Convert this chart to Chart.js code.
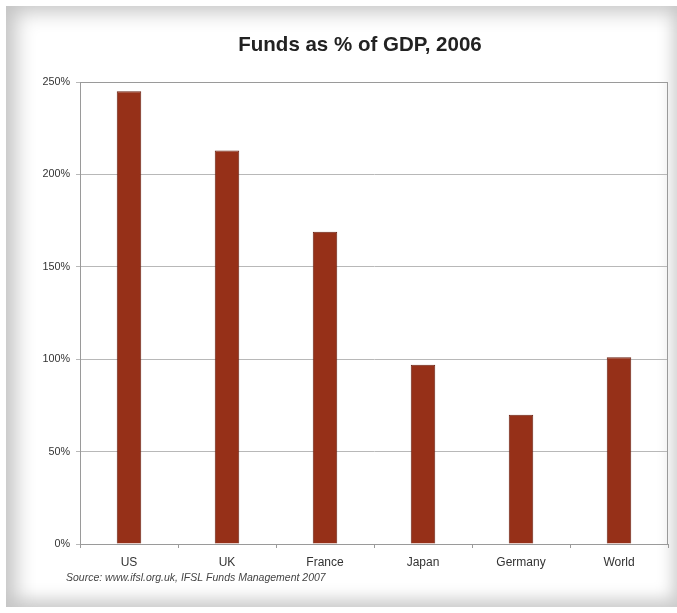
<!DOCTYPE html>
<html>
<head>
<meta charset="utf-8">
<script src="https://cdn.jsdelivr.net/npm/chart.js@4.4.0/dist/chart.umd.min.js"></script>
<style>
  html, body { margin: 0; padding: 0; background: #fff; }
  #marco {
    position: absolute; left: 0; top: 0; width: 677px; height: 613px; overflow: hidden;
    background: #fff;
  }
  #panel {
    position: absolute; left: 6px; top: 6px; right: 0; bottom: 6px;
    background: #fff;
    box-shadow: inset 16px 12px 20px -6px #c4c4c4, inset -10px -14px 16px -6px #cccccc;
  }
  #grafico { position: absolute; left: 0; top: 0; }
</style>
</head>
<body>
<div id="marco">
  <div id="panel"></div>
  <canvas id="grafico" width="677" height="613"></canvas>
</div>
<script>
// Datos del grafico
const paises = ["US", "UK", "France", "Japan", "Germany", "World"];
const fondosPib = [245, 213, 169, 97, 70, 101]; // % del PIB
const tituloTexto = "Funds as % of GDP, 2006";
const fuenteTexto = "Source: www.ifsl.org.uk, IFSL Funds Management 2007";

const colorBarra = "#963018";
const colorBordeBarra = "#6a2012";
const colorGrilla = "#b8b8b8";

// Plugin para el titulo, la fuente y el marco del area del grafico
const textosPlugin = {
    id: "textos",
    afterDraw(chart) {
        const ctx = chart.ctx;
        const area = chart.chartArea;
        ctx.save();
        // marco del area
        ctx.strokeStyle = "#9a9a9a";
        ctx.lineWidth = 1;
        ctx.strokeRect(area.left + 0.5, area.top + 0.5, area.right - area.left - 1, area.bottom - area.top);
        // titulo
        ctx.fillStyle = "#222";
        ctx.font = "bold 20.5px 'Liberation Sans', Arial, sans-serif";
        ctx.textAlign = "center";
        ctx.textBaseline = "middle";
        ctx.fillText(tituloTexto, 360, 45);
        // fuente
        ctx.fillStyle = "#444";
        ctx.font = "italic 10.5px 'Liberation Sans', Arial, sans-serif";
        ctx.textAlign = "left";
        ctx.fillText(fuenteTexto, 66, 578);
        ctx.restore();
    },
};

const ctx = document.getElementById("grafico");
new Chart(ctx, {
    type: "bar",
    data: {
        labels: paises,
        datasets: [
            {
                label: tituloTexto,
                data: fondosPib,
                backgroundColor: colorBarra,
                borderColor: colorBordeBarra,
                borderWidth: 1,
                barPercentage: 0.25,
                categoryPercentage: 1,
            },
        ],
    },
    options: {
        responsive: false,
        animation: false,
        layout: {
            padding: { left: 0, right: 9, top: 82, bottom: 0 },
        },
        scales: {
            x: {
                grid: {
                    offset: true,
                    drawOnChartArea: false,
                    tickLength: 4,
                    color: "#9a9a9a",
                },
                border: { color: "#9a9a9a" },
                ticks: {
                    color: "#333",
                    padding: 7,
                    font: { family: "'Liberation Sans', Arial, sans-serif", size: 12 },
                },
                afterFit: (scale) => { scale.height = 69; },
            },
            y: {
                min: 0,
                max: 250,
                grid: { color: colorGrilla, tickLength: 4 },
                border: { color: "#9a9a9a" },
                ticks: {
                    stepSize: 50,
                    color: "#333",
                    padding: 6,
                    font: { family: "'Liberation Sans', Arial, sans-serif", size: 10.8 },
                    callback: (valor) => valor + "%",
                },
                afterFit: (scale) => { scale.width = 80; },
            },
        },
        plugins: {
            legend: { display: false },
            title: { display: false },
            tooltip: { enabled: false },
        },
    },
    plugins: [textosPlugin],
});
</script>
</body>
</html>
